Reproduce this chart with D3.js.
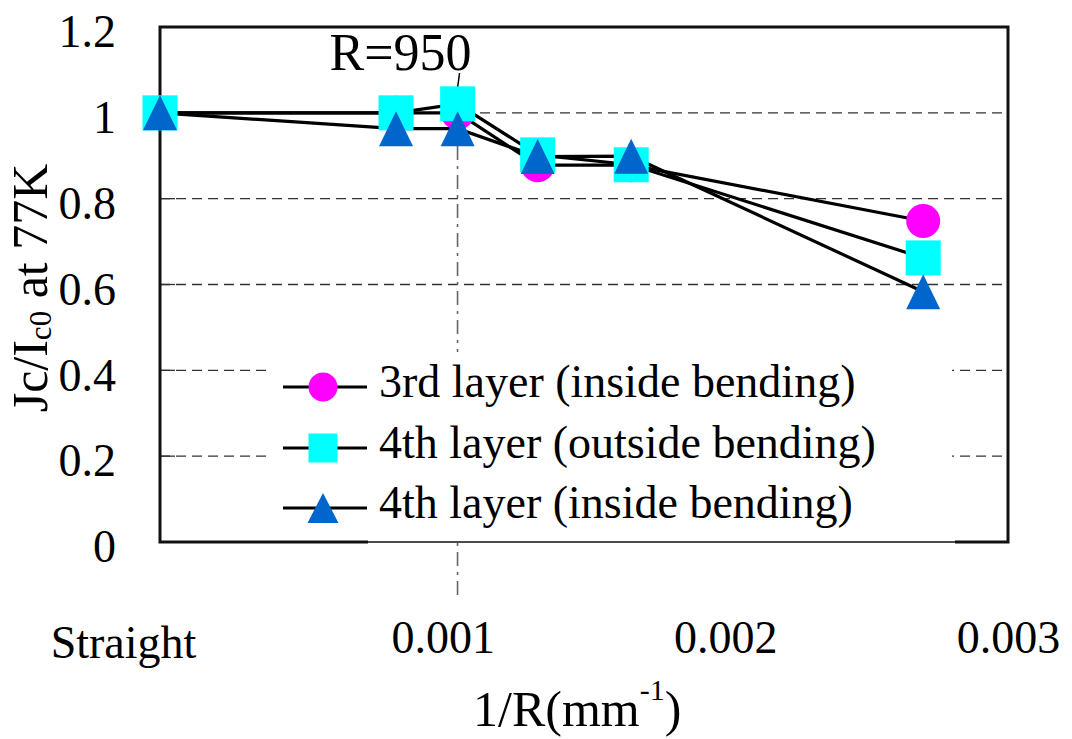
<!DOCTYPE html>
<html>
<head>
<meta charset="utf-8">
<script src="https://cdn.jsdelivr.net/npm/d3@7"></script>
<style>
  body { margin: 0; background: #fff; }
  svg text { font-family: "Liberation Serif", "Times New Roman", serif; fill: #000; }
</style>
</head>
<body>
<svg id="chart"></svg>
<script>
// values
const invR = [0, 0.000835, 0.001053, 0.001336, 0.001667, 0.0027];
const layer3Inside = [1.0, 1.0, 1.0, 0.878, 0.878, 0.748];
const layer4Outside = [1.0, 1.0, 1.021, 0.902, 0.879, 0.662];
const layer4Inside = [1.0, 0.963, 0.963, 0.898, 0.899, 0.583];
const seriesNames = [
  "3rd layer (inside bending)",
  "4th layer (outside bending)",
  "4th layer (inside bending)"
];
const yTicks = [0, 0.2, 0.4, 0.6, 0.8, 1.0, 1.2];
const xTicks = [0, 0.001, 0.002, 0.003];
const xTickLabels = ["Straight", "0.001", "0.002", "0.003"];
const markedR = 950;

const width = 1072;
const height = 739;
const plotLeft = 160, plotRight = 1008, plotTop = 27, plotBottom = 542;

const svg = d3.select("#chart").attr("width", width).attr("height", height);

const xScale = d3.scaleLinear().domain([0, 0.003]).range([plotLeft, plotRight]);
const yScale = d3.scaleLinear().domain([0, 1.2]).range([plotBottom, plotTop]);

const inner = yTicks.filter((d) => d > 0 && d < 1.2);

// grid lines
svg.append("g")
  .selectAll("line")
  .data(inner)
  .enter()
  .append("line")
  .attr("x1", plotLeft)
  .attr("x2", plotRight)
  .attr("y1", (d) => yScale(d))
  .attr("y2", (d) => yScale(d))
  .attr("stroke", "#333")
  .attr("stroke-width", 1.3)
  .attr("stroke-dasharray", "10,6");

// small inside ticks
svg.append("g")
  .selectAll("line")
  .data(inner)
  .enter()
  .append("line")
  .attr("x1", plotLeft)
  .attr("x2", plotLeft + 15)
  .attr("y1", (d) => yScale(d))
  .attr("y2", (d) => yScale(d))
  .attr("stroke", "#333")
  .attr("stroke-width", 1.3);

// R=950 marker line
const xr = xScale(1 / markedR);
svg.append("line")
  .attr("x1", xr).attr("x2", xr)
  .attr("y1", 88).attr("y2", 596)
  .attr("stroke", "#666")
  .attr("stroke-width", 1.6)
  .attr("stroke-dasharray", "14,6,3,6");
svg.append("line")
  .attr("x1", xr + 2).attr("x2", xr)
  .attr("y1", 73).attr("y2", 88)
  .attr("stroke", "#000")
  .attr("stroke-width", 1.5);
svg.append("text")
  .attr("x", xr - 57)
  .attr("y", 70)
  .attr("text-anchor", "middle")
  .style("font-size", "52px")
  .text(`R=${markedR}`);

// legend background
svg.append("rect")
  .attr("x", 272).attr("y", 352)
  .attr("width", 680).attr("height", 189)
  .attr("fill", "#fff");

// frame
const frame = svg.append("g").attr("stroke", "#111").attr("fill", "none");
frame.append("path")
  .attr("d", `M368,${plotBottom}H${plotLeft}V${plotTop}H${plotRight}V${plotBottom}H955`)
  .attr("stroke-width", 3);
frame.append("line")
  .attr("x1", 368).attr("x2", 955)
  .attr("y1", plotBottom).attr("y2", plotBottom)
  .attr("stroke-width", 1.5);

// axes
const yAxis = d3.axisLeft(yScale)
  .tickValues(yTicks)
  .tickFormat((d) => (d === 0 ? "0" : String(+d.toFixed(1))))
  .tickSize(0)
  .tickPadding(0);
const yg = svg.append("g").attr("transform", "translate(116,0)").call(yAxis);
yg.select(".domain").remove();
yg.selectAll("text")
  .attr("dy", "0.43em")
  .style("font-size", "46px")
  .style("font-family", '"Liberation Serif", "Times New Roman", serif');

const xAxis = d3.axisBottom(xScale)
  .tickValues(xTicks)
  .tickFormat((d, i) => xTickLabels[i])
  .tickSize(0)
  .tickPadding(0);
const xg = svg.append("g").attr("transform", "translate(0,653)").call(xAxis);
xg.select(".domain").remove();
xg.selectAll("text")
  .attr("y", 0)
  .attr("dy", 0)
  .style("font-size", "46px")
  .style("font-family", '"Liberation Serif", "Times New Roman", serif');
xg.selectAll("text")
  .filter((d) => d === 0)
  .attr("dx", -37)
  .attr("y", 5);

// axis titles
const yt = svg.append("text")
  .attr("transform", "translate(47,288) rotate(-90)")
  .attr("text-anchor", "middle")
  .style("font-size", "50px");
yt.append("tspan").text("Jc/I");
yt.append("tspan").attr("baseline-shift", "-14%").style("font-size", "31px").text("c0");
yt.append("tspan").text(" at 77K");

const xt = svg.append("text")
  .attr("x", 473)
  .attr("y", 726)
  .style("font-size", "50px");
xt.append("tspan").text("1/R(mm");
xt.append("tspan").attr("dy", -26).style("font-size", "30px").text("-1");
xt.append("tspan").attr("dy", 26).text(")");

// series
const allSeries = [layer3Inside, layer4Outside, layer4Inside];
const line = d3.line()
  .x((d, i) => xScale(invR[i]))
  .y((d) => yScale(d));

svg.append("g")
  .selectAll("path")
  .data(allSeries)
  .enter()
  .append("path")
  .attr("d", line)
  .attr("fill", "none")
  .attr("stroke", "#000")
  .attr("stroke-width", 3.2);

const tri = (w, h) => `M0,${-h / 2}L${w / 2},${h / 2}L${-w / 2},${h / 2}Z`;

svg.append("g")
  .selectAll("circle")
  .data(layer3Inside)
  .enter()
  .append("circle")
  .attr("cx", (d, i) => xScale(invR[i]))
  .attr("cy", (d) => yScale(d))
  .attr("r", 17)
  .attr("fill", "#ff00ff");

svg.append("g")
  .selectAll("rect")
  .data(layer4Outside)
  .enter()
  .append("rect")
  .attr("x", (d, i) => xScale(invR[i]) - 17.5)
  .attr("y", (d) => yScale(d) - 17.5)
  .attr("width", 35)
  .attr("height", 35)
  .attr("fill", "#00ffff");

svg.append("g")
  .selectAll("path")
  .data(layer4Inside)
  .enter()
  .append("path")
  .attr("transform", (d, i) => `translate(${xScale(invR[i])},${yScale(d)})`)
  .attr("d", tri(34, 35))
  .attr("fill", "#0066cc");

// legend
const legendRows = [387, 448, 508];
const lg = svg.append("g");
seriesNames.forEach((name, i) => {
  const yy = legendRows[i];
  lg.append("line")
    .attr("x1", 283).attr("x2", 367)
    .attr("y1", yy).attr("y2", yy)
    .attr("stroke", "#000")
    .attr("stroke-width", 3.2);
  if (i === 0) {
    lg.append("circle").attr("cx", 323).attr("cy", yy).attr("r", 14.5).attr("fill", "#ff00ff");
  } else if (i === 1) {
    lg.append("rect").attr("x", 323 - 14.5).attr("y", yy - 14.5)
      .attr("width", 29).attr("height", 29).attr("fill", "#00ffff");
  } else {
    lg.append("path").attr("transform", `translate(323,${yy})`)
      .attr("d", tri(31, 30)).attr("fill", "#0066cc");
  }
  lg.append("text")
    .attr("x", 379)
    .attr("y", yy + 10)
    .style("font-size", "46px")
    .text(name);
});
</script>
</body>
</html>
